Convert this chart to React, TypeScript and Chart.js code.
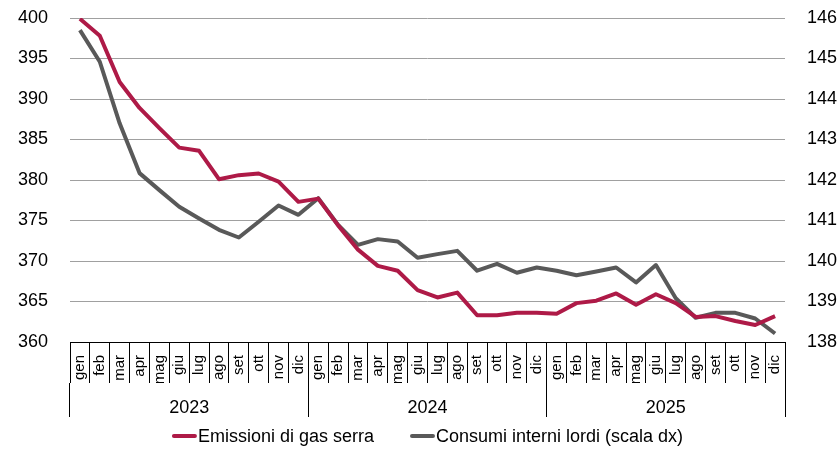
import React, { useEffect, useRef } from "react";
import { Chart, registerables } from "chart.js";

Chart.register(...registerables);

const months = ["gen", "feb", "mar", "apr", "mag", "giu", "lug", "ago", "set", "ott", "nov", "dic"];
const years = ["2023", "2024", "2025"];
const categories = years.flatMap((y) => months.map((m) => m));

const emissioni = [
  399.9, 397.8, 392.1, 388.9, 386.4, 384.0, 383.6, 380.1, 380.6, 380.8, 379.8, 377.3,
  377.7, 374.4, 371.4, 369.4, 368.8, 366.4, 365.5, 366.1, 363.3, 363.3, 363.6, 363.6,
  363.5, 364.8, 365.1, 366.0, 364.6, 365.9, 364.8, 363.1, 363.2, 362.6, 362.1, 363.2,
];

const consumi = [
  145.70, 144.92, 143.40, 142.17, 141.75, 141.34, 141.05, 140.77, 140.58, 140.97, 141.37, 141.14,
  141.55, 140.89, 140.40, 140.54, 140.48, 140.08, 140.17, 140.25, 139.76, 139.93, 139.71, 139.84,
  139.76, 139.65, 139.74, 139.84, 139.47, 139.90, 139.08, 138.60, 138.72, 138.72, 138.58, 138.21,
];

const seriesNames = ["Emissioni di gas serra", "Consumi interni lordi (scala dx)"];
const seriesColors = ["#AE1A47", "#595959"];
const leftTicks = { min: 360, max: 400, step: 5 };
const rightTicks = { min: 138, max: 146, step: 1 };

const FONT = "'Liberation Sans', Arial, sans-serif";

// Custom bottom legend: line swatch + label, centred under the plot area
const legendPlugin = {
  id: "customLegend",
  afterDraw(chart: any) {
    const ctx = chart.ctx;
    const area = chart.chartArea;
    const swatchW = 25;
    const swatchGap = 1;
    const itemGap = 36;
    const y = 436;
    ctx.save();
    ctx.font = `18px ${FONT}`;
    ctx.textBaseline = "middle";
    ctx.textAlign = "left";
    const items = chart.data.datasets.map((ds: any) => ({
      text: ds.label as string,
      color: ds.borderColor as string,
      w: ctx.measureText(ds.label).width,
    }));
    const total =
      items.reduce((s: number, it: any) => s + swatchW + swatchGap + it.w, 0) + itemGap * (items.length - 1);
    let x = (area.left + area.right) / 2 - total / 2;
    items.forEach((it: any) => {
      ctx.strokeStyle = it.color;
      ctx.lineWidth = 4;
      ctx.lineCap = "round";
      ctx.beginPath();
      ctx.moveTo(x + 2, y);
      ctx.lineTo(x + swatchW - 2, y);
      ctx.stroke();
      x += swatchW + swatchGap;
      ctx.fillStyle = "#000";
      ctx.fillText(it.text, x, y + 1);
      x += it.w + itemGap;
    });
    ctx.restore();
  },
};

export default function App() {
  const ref = useRef<HTMLCanvasElement | null>(null);

  useEffect(() => {
    const canvas = ref.current;
    if (!canvas) return;
    const chart = new Chart(canvas, {
      type: "line",
      data: {
        labels: categories,
        datasets: [
          {
            label: seriesNames[0],
            data: emissioni,
            borderColor: seriesColors[0],
            backgroundColor: seriesColors[0],
            borderWidth: 4,
            pointRadius: 0,
            tension: 0,
            borderJoinStyle: "round",
            yAxisID: "y",
            xAxisID: "x",
          },
          {
            label: seriesNames[1],
            data: consumi,
            borderColor: seriesColors[1],
            backgroundColor: seriesColors[1],
            borderWidth: 4,
            pointRadius: 0,
            tension: 0,
            borderJoinStyle: "round",
            yAxisID: "y1",
            xAxisID: "x",
          },
        ],
      },
      plugins: [legendPlugin],
      options: {
        responsive: false,
        animation: false,
        layout: { padding: { top: 18, left: 0, right: 0, bottom: 33 } },
        plugins: {
          title: { display: false },
          tooltip: { enabled: false },
          legend: { display: false },
        },
        scales: {
          x: {
            type: "category",
            position: "bottom",
            offset: true,
            grid: {
              offset: true,
              drawOnChartArea: false,
              drawTicks: true,
              tickLength: 41,
              color: "#000",
              lineWidth: 1,
            },
            border: { display: true, color: "#000", width: 1 },
            ticks: {
              autoSkip: false,
              minRotation: 90,
              maxRotation: 90,
              padding: -28,
              color: "#000",
              font: { family: "'Liberation Sans Narrow', 'Liberation Sans', Arial, sans-serif", size: 15 },
            },
            afterFit: (scale: any) => {
              scale.height = 41;
              scale.paddingLeft = 0;
              scale.paddingRight = 0;
            },
          },
          x2: {
            type: "category",
            position: "bottom",
            labels: years,
            offset: true,
            grid: {
              offset: true,
              drawOnChartArea: false,
              drawTicks: true,
              tickLength: 34,
              color: "#000",
              lineWidth: 1,
            },
            border: { display: false },
            ticks: {
              autoSkip: false,
              maxRotation: 0,
              padding: -20,
              color: "#000",
              font: { family: FONT, size: 18 },
            },
            afterFit: (scale: any) => {
              scale.height = 34;
              scale.paddingLeft = 0;
              scale.paddingRight = 0;
            },
          },
          y: {
            type: "linear",
            position: "left",
            min: leftTicks.min,
            max: leftTicks.max,
            ticks: {
              stepSize: leftTicks.step,
              padding: 22,
              color: "#000",
              font: { family: FONT, size: 18 },
            },
            grid: { color: "#A0A0A0", lineWidth: 1, drawTicks: false },
            border: { display: false },
            afterFit: (scale: any) => {
              scale.width = 70;
              scale.paddingTop = 0;
              scale.paddingBottom = 0;
            },
          },
          y1: {
            type: "linear",
            position: "right",
            min: rightTicks.min,
            max: rightTicks.max,
            ticks: {
              stepSize: rightTicks.step,
              padding: 22,
              color: "#000",
              font: { family: FONT, size: 18 },
            },
            grid: { display: false, drawTicks: false },
            border: { display: false },
            afterFit: (scale: any) => {
              scale.width = 53;
              scale.paddingTop = 0;
              scale.paddingBottom = 0;
            },
          },
        },
      },
    });
    return () => chart.destroy();
  }, []);

  return (
    <div style={{ position: "absolute", left: 0, top: 0, width: 838, height: 450, background: "#fff" }}>
      <canvas ref={ref} width={838} height={450} style={{ display: "block" }} />
    </div>
  );
}
